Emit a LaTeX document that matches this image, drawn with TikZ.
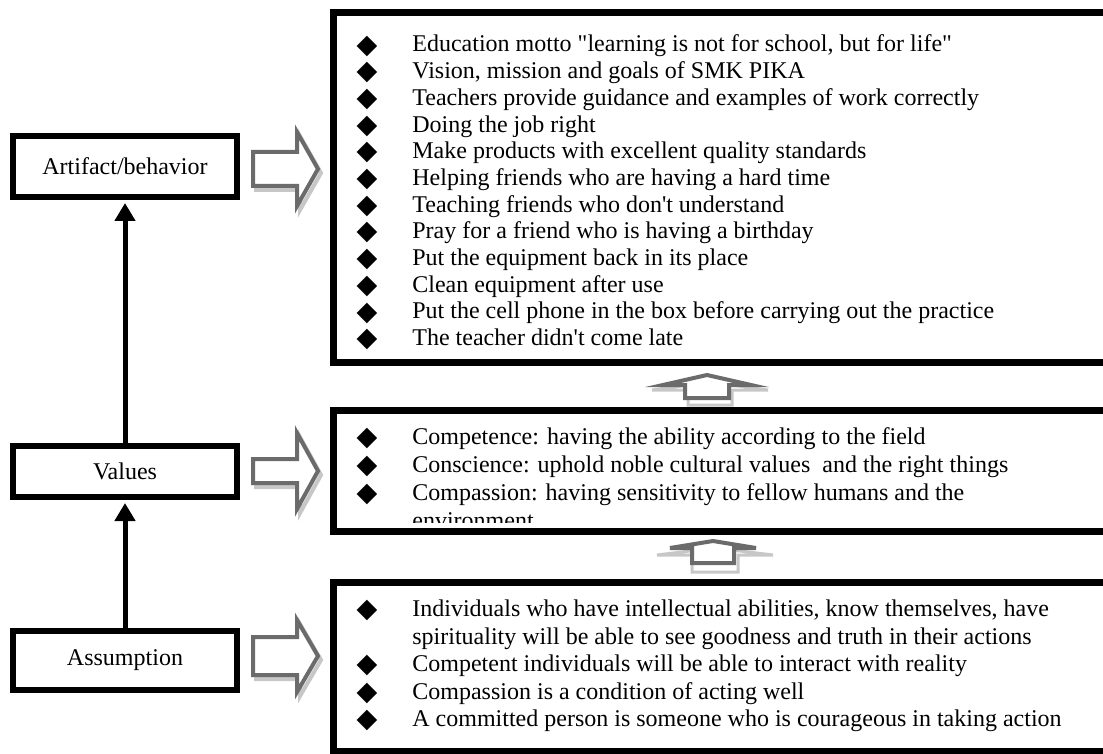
\documentclass[tikz,border=0pt]{standalone}
\usepackage{fontspec}
\setmainfont{Liberation Serif}[Ligatures=TeXOff]
\newfontfamily\symfont{DejaVu Sans}
\usetikzlibrary{arrows.meta}

\tikzset{
  level/.style={draw, line width=3pt, inner sep=0pt, minimum width=112pt,
    font=\fontsize{12}{14}\selectfont},
  listbox/.style={line width=3.5pt},
  up link/.style={line width=2.5pt, -{Triangle[length=9pt,width=10pt]}, shorten >=1.5pt},
  block/.style={draw=black!58, fill=white, line width=2pt},
  block shadow/.style={draw=black!22, line width=2pt},
  dot/.style={inner sep=0pt, font=\symfont\fontsize{13.5}{13.5}\selectfont},
  entry/.style={anchor=west, inner sep=0pt, text height=8.5pt, text depth=2.5pt,
    font=\fontsize{12}{14}\selectfont},
}

% block arrow to the right: centre y, half shaft, half head
\newcommand\rightblock[3]{%
  \draw[block shadow, shift={(3,4)}] (253,{#1-#2}) -- (297,{#1-#2}) -- (297,{#1-#3})
    -- (318,#1) -- (297,{#1+#3}) -- (297,{#1+#2}) -- (253,{#1+#2}) -- cycle;
  \draw[block] (253,{#1-#2}) -- (297,{#1-#2}) -- (297,{#1-#3})
    -- (318,#1) -- (297,{#1+#3}) -- (297,{#1+#2}) -- (253,{#1+#2}) -- cycle;
}
% flat block arrow pointing up: style, x, head base, peak, half head, half stem, stem end
\newcommand\upblock[7]{%
  \draw[#1] ({#2-#6},#7) -- ({#2-#6},#3) -- ({#2-#5},#3) -- (#2,#4)
    -- ({#2+#5},#3) -- ({#2+#6},#3) -- ({#2+#6},#7) -- cycle;
}

\begin{document}
\begin{tikzpicture}[x=0.5pt, y=-0.5pt, line join=miter]
\useasboundingbox (0,0) rectangle (1103,754);
\clip (0,0) rectangle (1103,754);

% Livelli a sinistra
\node[level, minimum height=30.5pt] (artifact) at (125,166.5) {Artifact/behavior};
\node[level, minimum height=25.5pt] (values) at (125,471.5) {Values};
\node[level, minimum height=29.5pt] (assumption) at (125,660.5) {Assumption};

\draw[up link] (values.north) -- (artifact.south);
\draw[up link] (assumption.north) -- (values.south);

% Frecce verso i riquadri
\rightblock{169}{17}{37}
\rightblock{471}{12}{38}
\rightblock{656}{19}{36}

% Riquadro artifact/behavior
\foreach \txt [count=\i, evaluate=\i as \yy using 46+(\i-1)*26.7] in {
  {Education motto "learning is not for school, but for life"},
  {Vision, mission and goals of SMK PIKA},
  Teachers provide guidance and examples of work correctly,
  Doing the job right,
  Make products with excellent quality standards,
  Helping friends who are having a hard time,
  Teaching friends who don't understand,
  Pray for a friend who is having a birthday,
  Put the equipment back in its place,
  Clean equipment after use,
  Put the cell phone in the box before carrying out the practice,
  The teacher didn't come late}{
  \node[dot] (ab\i) at (367,\yy) {◆};
  \node[entry] (at\i) at (412,\yy) {\txt};
}
\draw[listbox] (333.5,12.5) rectangle (1140,362.5);

% Riquadro values
\begin{scope}
  \clip (337,414) rectangle (1103,522);
  \node[dot] (vb1) at (367,438) {◆};
  \node[entry] (vt1) at (412,438) {Competence: having the ability according to the field};
  \node[dot] (vb2) at (367,466) {◆};
  \node[entry] (vt2) at (412,466) {Conscience: uphold noble cultural values~ and the right things};
  \node[dot] (vb3) at (367,494) {◆};
  \node[entry] (vt3) at (412,494) {Compassion: having sensitivity to fellow humans and the};
  \node[entry] (vt4) at (412,522) {environment};
\end{scope}
\draw[listbox] (333.5,410.5) rectangle (1140,531.5);

% Riquadro assumption
\node[dot] (sb1) at (367,610) {◆};
\node[entry] (st1) at (412,610) {Individuals who have intellectual abilities, know themselves, have};
\node[entry] (st2) at (412,638) {spirituality will be able to see goodness and truth in their actions};
\node[dot] (sb3) at (367,665) {◆};
\node[entry] (st3) at (412,665) {Competent individuals will be able to interact with reality};
\node[dot] (sb4) at (367,693) {◆};
\node[entry] (st4) at (412,693) {Compassion is a condition of acting well};
\node[dot] (sb5) at (367,720) {◆};
\node[entry] (st5) at (412,720) {A committed person is someone who is courageous in taking action};
\draw[listbox] (333.5,582.5) rectangle (1140,751);

% Frecce piatte tra i riquadri
\upblock{block shadow, line width=1.5pt}{710}{390}{382}{58}{22}{405}
\upblock{block}{707}{385}{375}{44}{22}{398}
\upblock{block shadow, line width=1.5pt}{715}{555}{548}{58}{23}{572}
\upblock{block}{713}{548}{541}{43}{21}{563}

\end{tikzpicture}
\end{document}
